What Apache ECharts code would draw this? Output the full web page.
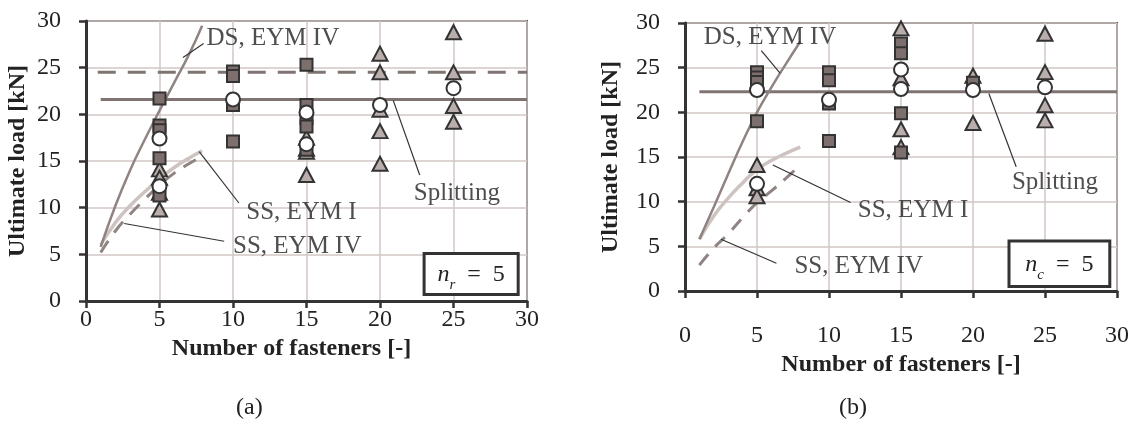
<!DOCTYPE html>
<html><head><meta charset="utf-8">
<script src="https://cdn.jsdelivr.net/npm/echarts@6/dist/echarts.min.js"></script>
<style>html,body{margin:0;padding:0;background:#fff}#c{width:1135px;height:425px}</style>
</head><body><div id="c"></div>
<script>
// ---- tick labels ----
const xTickLabels = ['0','5','10','15','20','25','30'];
const yTickLabels = ['0','5','10','15','20','25','30'];

// ---- (a) n_r = 5 ----
const aSquares = [[5,21.7],[5,18.8],[5,18.3],[5,15.3],[5,11.3],
  [10,24.6],[10,24.1],[10,21.0],[10,17.1],
  [15,25.3],[15,21.0],[15,19.6],[15,18.7],[15,16.2]];
const aTriangles = [[5,14.1],[5,13.2],[5,11.6],[5,9.8],
  [15,17.5],[15,16.3],[15,16.0],[15,13.5],
  [20,26.5],[20,24.5],[20,20.5],[20,18.2],[20,14.7],
  [25,28.8],[25,24.5],[25,20.9],[25,19.2]];
const aCircles = [[5,17.4],[5,12.3],[10,21.6],[15,20.2],[15,16.8],[20,21.0],[25,22.8]];
const aSplitting = [[1,21.6],[30,21.6]];
const aSplittingDashed = [[0.8,24.5],[30,24.5]];
const aDS = [[1,5.8],[2,10.2],[3,14.0],[4,17.3],[5,20.4],[6,23.4],[7,26.4],[7.9,29.5]];
const aSS1 = [[1,6.0],[2,8.4],[3,10.2],[4,11.7],[5,13.1],[6,14.3],[7,15.3],[7.9,16.1]];
const aSS4 = [[1,5.2],[2,7.5],[3,9.3],[4,10.9],[5,12.4],[6,13.7],[7,14.7],[7.9,15.5]];

// ---- (b) n_c = 5 ----
const bSquares = [[5,24.5],[5,23.9],[5,23.4],[5,19.0],
  [10,24.5],[10,23.6],[10,21.0],[10,16.8],
  [15,27.7],[15,26.6],[15,19.9],[15,15.5],
  [20,23.3]];
const bTriangles = [[5,14.1],[5,11.5],[5,10.6],
  [15,29.4],[15,23.8],[15,18.1],[15,16.1],
  [20,24.1],[20,18.8],
  [25,28.8],[25,24.5],[25,20.8],[25,19.1]];
const bCircles = [[5,22.5],[5,12.0],[10,21.4],[15,24.8],[15,22.6],[20,22.5],[25,22.8]];
const bSplitting = [[1,22.3],[30,22.3]];
const bDS = [[1,5.8],[2,9.4],[3,13.1],[4,16.7],[5,20.0],[6,22.8],[7,25.4],[8,27.9]];
const bSS1 = [[1,5.8],[2,8.4],[3,10.4],[4,12.1],[5,13.6],[6,14.6],[7,15.4],[8,16.1]];
const bSS4 = [[1,2.9],[2,4.8],[3,6.4],[4,8.2],[5,9.9],[6,11.2],[7,12.6],[8,14.1]];

// ---- annotations (data coordinates) ----
const aNoteTexts = ['DS, EYM IV','SS, EYM I','SS, EYM IV','Splitting'];
const aNotePos = [[8.2,28.1],[10.9,9.5],[10.0,5.8],[22.3,11.5]];
const aLeaders = [[[6.6,26.1],[8.0,27.6]],[[7.7,16.0],[10.4,10.5]],[[2.6,8.3],[9.4,6.4]],[[20.9,21.5],[22.7,13.5]]];
const aBox = [[23.0,5.1],[29.4,0.7]];
const bNoteTexts = ['DS, EYM IV','SS, EYM I','SS, EYM IV','Splitting'];
const bNotePos = [[1.3,28.4],[12.0,9.0],[7.6,2.8],[22.7,12.2]];
const bLeaders = [[[5.3,26.9],[6.6,24.4]],[[6.1,14.1],[11.5,9.9]],[[2.5,5.8],[6.35,3.1]],[[21.1,22.1],[23.0,13.9]]];
const bBox = [[22.5,5.6],[29.5,0.5]];

const SERIF = '"Liberation Serif","Times New Roman",serif';
const TXT = '#222';
const GRIDC = '#d2c7c6';
const DARK = '#7f7472';
const CURVE = '#8f8482';
const LIGHT = '#cdc3c1';

function xAxis(gi, padRight, labelMargin, nameGap) {
  return {
    type:'value', gridIndex:gi, min:0, max:30, interval:5,
    name:'Number of fasteners [-]', nameLocation:'middle', nameGap:nameGap,
    nameTextStyle:{fontFamily:SERIF, fontWeight:'bold', fontSize:24, color:TXT, padding:[0,padRight,0,0]},
    axisLine:{show:true, onZero:false, lineStyle:{color:'#333', width:3}},
    axisTick:{show:true, length:7, lineStyle:{color:'#333', width:2.5}},
    axisLabel:{margin:labelMargin, fontFamily:SERIF, fontSize:24, color:TXT,
      formatter:v=>xTickLabels[Math.round(v/5)]},
    splitLine:{show:true, lineStyle:{color:GRIDC, width:1.5}}
  };
}
function yAxis(gi, gap) {
  return {
    type:'value', gridIndex:gi, min:0, max:30, interval:5,
    name:'Ultimate load [kN]', nameLocation:'middle', nameGap:gap,
    nameTextStyle:{fontFamily:SERIF, fontWeight:'bold', fontSize:24, color:TXT},
    axisLine:{show:true, onZero:false, lineStyle:{color:'#333', width:3}},
    axisTick:{show:true, length:7, lineStyle:{color:'#333', width:2.5}},
    axisLabel:{margin:25, fontFamily:SERIF, fontSize:24, color:TXT,
      formatter:v=>yTickLabels[Math.round(v/5)]},
    splitLine:{show:true, lineStyle:{color:GRIDC, width:1.5}}
  };
}
function lineS(gi, data, color, width, type, smooth, z) {
  return {type:'line', xAxisIndex:gi, yAxisIndex:gi, data, showSymbol:false, symbol:'none',
    smooth:smooth, z:z||2, silent:true,
    lineStyle:{color, width, type: type||'solid', cap:'butt'}};
}
function scat(gi, data, symbol, size, fill, z) {
  return {type:'scatter', xAxisIndex:gi, yAxisIndex:gi, data, symbol, symbolSize:size, z:z,
    itemStyle:{color:fill, borderColor:'#333', borderWidth:2, opacity:1}};
}
function notes(gi, texts, pos, box, sub) {
  return {type:'scatter', xAxisIndex:gi, yAxisIndex:gi, symbolSize:0, z:8,
    data: pos.map((p,i)=>({value:p, name:texts[i]})),
    label:{show:true, position:'right', distance:0, formatter:p=>p.name,
      fontFamily:SERIF, fontSize:25, color:TXT},
    markArea:{silent:true, z:7,
      itemStyle:{color:'#fff', borderColor:'#333', borderWidth:3},
      label:{show:true, position:'inside', formatter:'{n|n}{s|'+sub+'}{t|  =  5}',
        rich:{
          n:{fontFamily:SERIF, fontStyle:'italic', fontSize:24, color:TXT, lineHeight:26, verticalAlign:'bottom'},
          s:{fontFamily:SERIF, fontStyle:'italic', fontSize:15, color:TXT, lineHeight:20, verticalAlign:'bottom', padding:[0,0,-6,0]},
          t:{fontFamily:SERIF, fontSize:24, color:TXT, lineHeight:26, verticalAlign:'bottom'}
        }},
      data:[[{coord:box[0]},{coord:box[1]}]]}
  };
}
function leaders(gi, segs) {
  return {type:'lines', coordinateSystem:'cartesian2d', xAxisIndex:gi, yAxisIndex:gi, z:6, silent:true,
    lineStyle:{color:'#333', width:1.2, opacity:1},
    data: segs.map(s=>({coords:s}))};
}

const chart = echarts.init(document.getElementById('c'), null, {renderer:'canvas'});
chart.setOption({
  animation:false,
  backgroundColor:'#fff',
  grid:[
    {left:86, top:21, width:441, height:280, show:true, borderColor:'#4a4a4a', borderWidth:2, backgroundColor:'transparent'},
    {left:685, top:23, width:432, height:268, show:true, borderColor:'#4a4a4a', borderWidth:2, backgroundColor:'transparent'}
  ],
  xAxis:[xAxis(0,30,7,31), xAxis(1,0,33,57)],
  yAxis:[yAxis(0,56), yAxis(1,62)],
  graphic:[
    {type:'text', left:236, top:396, style:{text:'(a)', font:'24px '+SERIF, fill:TXT}},
    {type:'text', left:839, top:396, style:{text:'(b)', font:'24px '+SERIF, fill:TXT}}
  ],
  series:[
    lineS(0, aSplitting, DARK, 3, 'solid', false, 2),
    lineS(0, aSplittingDashed, DARK, 3, [18,12], false, 2),
    lineS(0, aSS1, LIGHT, 3.5, 'solid', true, 2),
    lineS(0, aSS4, CURVE, 3, [14,10], true, 2),
    lineS(0, aDS, CURVE, 2.5, 'solid', true, 3),
    leaders(0, aLeaders),
    scat(0, aTriangles, 'triangle', [15,14], '#b9aeac', 4),
    scat(0, aSquares, 'rect', 12, '#7d6f6d', 4),
    scat(0, aCircles, 'circle', 14, '#fff', 5),
    notes(0, aNoteTexts, aNotePos, aBox, 'r'),

    lineS(1, bSplitting, DARK, 3, 'solid', false, 2),
    lineS(1, bSS1, LIGHT, 3.5, 'solid', true, 2),
    lineS(1, bSS4, CURVE, 3, [14,10], true, 2),
    lineS(1, bDS, CURVE, 2.5, 'solid', true, 3),
    leaders(1, bLeaders),
    scat(1, bTriangles, 'triangle', [15,14], '#b9aeac', 4),
    scat(1, bSquares, 'rect', 12, '#7d6f6d', 4),
    scat(1, bCircles, 'circle', 14, '#fff', 5),
    notes(1, bNoteTexts, bNotePos, bBox, 'c')
  ]
});
</script></body></html>
